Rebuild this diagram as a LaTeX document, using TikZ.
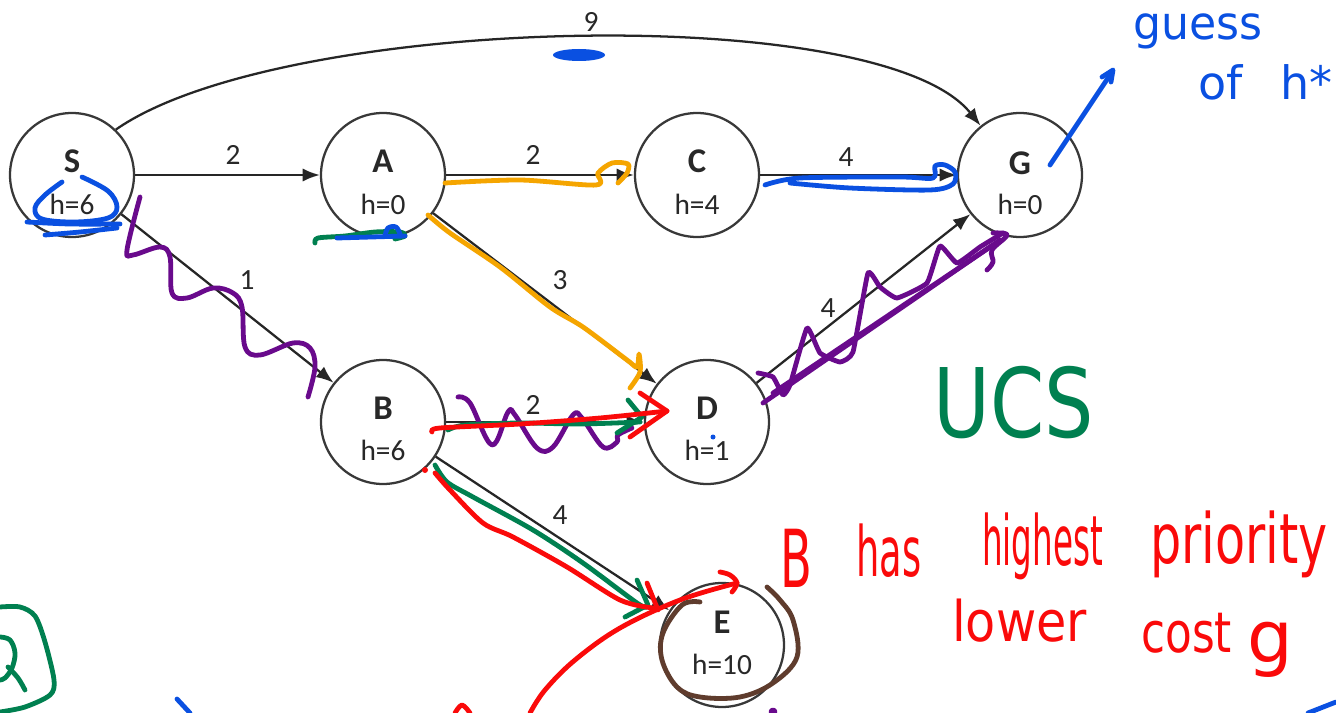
\documentclass[tikz,border=0pt]{standalone}
\usepackage{fontspec}
\setmainfont{Carlito}
\newfontfamily\handfont{DejaVu Sans}
\usetikzlibrary{arrows.meta,calc}
\definecolor{inkblue}{RGB}{10,80,225}
\definecolor{inkgreen}{RGB}{0,128,80}
\definecolor{inkorange}{RGB}{245,165,0}
\definecolor{inkpurple}{RGB}{105,10,140}
\definecolor{inkred}{RGB}{250,10,10}
\definecolor{inkbrown}{RGB}{95,60,45}
\definecolor{graytext}{RGB}{40,40,40}
\tikzset{
  state/.style={circle, draw=black!78, line width=1.7pt, minimum size=93pt, inner sep=0pt},
  nlabel/.style={font=\fontsize{26}{28}\selectfont\bfseries, text=graytext, inner sep=0pt},
  hlabel/.style={font=\fontsize{22}{24}\selectfont, text=graytext, inner sep=0pt},
  elabel/.style={font=\fontsize{22}{24}\selectfont, text=graytext, inner sep=0pt},
  link/.style={draw=black!85, line width=1.7pt, -{Latex[length=13pt,width=10pt]}},
  pen/.style={line width=3.6pt, line cap=round, line join=round},
  hand/.style={inner sep=0pt, anchor=base west},
}
\begin{document}
\begin{tikzpicture}[x=0.75pt,y=-0.75pt]
\fill[white] (0,0) rectangle (1336,713);
\useasboundingbox (0,0) rectangle (1336,713);

% ---- graph nodes ----
\node[state] (S) at (72,175) {};
\node[state] (A) at (383,175) {};
\node[state] (C) at (697,175) {};
\node[state] (G) at (1020,175) {};
\node[state] (B) at (383,422) {};
\node[state] (D) at (707,422) {};
\node[state] (E) at (722,645) {};

\node[nlabel] (Sl) at ($(S)+(0,-14)$) {S};
\node[hlabel] (Sh) at ($(S)+(0,29)$) {h=6};
\node[nlabel] (Al) at ($(A)+(0,-14)$) {A};
\node[hlabel] (Ah) at ($(A)+(0,29)$) {h=0};
\node[nlabel] (Cl) at ($(C)+(0,-14)$) {C};
\node[hlabel] (Ch) at ($(C)+(0,29)$) {h=4};
\node[nlabel] (Gl) at ($(G)+(0,-12)$) {G};
\node[hlabel] (Gh) at ($(G)+(0,29)$) {h=0};
\node[nlabel] (Bl) at ($(B)+(0,-14)$) {B};
\node[hlabel] (Bh) at ($(B)+(0,28)$) {h=6};
\node[nlabel] (Dl) at ($(D)+(0,-14)$) {D};
\node[hlabel] (Dh) at ($(D)+(0,28)$) {h=1};
\node[nlabel] (El) at ($(E)+(0,-23)$) {E};
\node[hlabel] (Eh) at ($(E)+(0,19)$) {h=10};

% ---- graph edges ----
\draw[link] (S) -- (A);
\draw[link] (A) -- (C);
\draw[link] (C) -- (G);
\draw[link] (S.46) .. controls (280,15) and (880,0) .. (G);
\draw[link] (S) -- (B);
\draw[link] (A) -- (D);
\draw[link] (B) -- (D);
\draw[link] (D) -- (G);
\draw[link] (B) -- (E);

\node[elabel] (w9) at (591,22) {9};
\node[elabel] (wSA) at (233,155) {2};
\node[elabel] (wAC) at (533,155) {2};
\node[elabel] (wCG) at (846,157) {4};
\node[elabel] (wSB) at (247,280) {1};
\node[elabel] (wAD) at (560,280) {3};
\node[elabel] (wDG) at (828,308) {4};
\node[elabel] (wBD) at (533,405) {2};
\node[elabel] (wBE) at (560,515) {4};

% ---- orange ink ----
\draw[pen, inkorange] plot[smooth, tension=0.5] coordinates {(445,183) (520,180) (596,185) (598,173) (612,163) (628,164) (627,173) (618,183)};
\draw[pen, inkorange] plot[smooth, tension=0.5] coordinates {(428,215) (450,233) (500,267) (550,307) (583,327) (627,360) (637,367) (639,354) (640,372) (630,388)};

% ---- purple ink ----
\draw[pen, inkpurple] plot[smooth, tension=0.6] coordinates {(140,197) (127,250) (133,255) (160,247) (170,257) (172,293) (187,298) (213,288) (233,293) (242,307) (245,347) (260,355) (293,343) (310,348) (315,367) (308,397)};
\draw[pen, inkpurple] plot[smooth, tension=0.6] coordinates {(458,397) (470,403) (492,445) (508,412) (515,415) (537,448) (553,447) (573,415) (582,418) (603,447) (617,442) (618,435) (632,428)};
\draw[pen, inkpurple] plot[smooth, tension=0.25] coordinates {(758,373) (773,377) (783,395) (790,385) (807,328) (820,353) (840,362) (853,352) (868,273) (880,287) (897,298) (927,283) (940,246) (957,263) (980,247) (1003,233)};
\draw[pen, inkpurple] (763,403) -- (1000,240);
\draw[pen, inkpurple] (773,393) -- (993,245);
\draw[pen, inkpurple] plot[smooth, tension=0.6] coordinates {(993,233) (1007,235) (992,250) (993,262) (987,270)};
\draw[pen, inkpurple] (773,712) circle (2);

% ---- green ink ----
\draw[pen, inkgreen] plot[smooth, tension=0.5] coordinates {(315,243) (318,238) (345,236) (375,232) (400,232) (405,236) (395,239)};
\draw[pen, inkgreen] plot[smooth, tension=0.5] coordinates {(448,430) (465,425) (520,423) (580,424) (640,422)};
\draw[pen, inkgreen] (628,400) -- (642,417) -- (617,433);
\draw[pen, inkgreen] plot[smooth, tension=0.5] coordinates {(435,465) (447,482) (473,497) (533,530) (583,563) (637,603) (647,607)};
\draw[pen, inkgreen] (637,580) -- (648,605) -- (625,617);
\draw[pen, inkgreen] plot[smooth, tension=0.5] coordinates {(0,607) (20,607) (35,616) (45,642) (54,680) (50,695) (25,707) (0,712)};
\draw[pen, inkgreen] plot[smooth, tension=0.6] coordinates {(0,637) (10,640) (15,653) (12,668) (5,678) (0,680)};
\draw[pen, inkgreen] plot[smooth, tension=0.6] coordinates {(8,667) (18,678) (25,690)};
\node[hand, text=inkgreen, font=\handfont\fontsize{72}{72}\selectfont] (ucs) at (933,437) {\scalebox{0.81}[1]{UCS}};

% ---- red ink ----
\draw[pen, inkred] plot[smooth, tension=0.5] coordinates {(432,432) (440,428) (520,424) (600,418) (667,411)};
\draw[pen, inkred] (640,393) -- (667,411) -- (630,437);
\draw[pen, inkred] plot[smooth, tension=0.5] coordinates {(435,473) (450,490) (483,523) (513,537) (567,567) (620,600) (653,608)};
\draw[pen, inkred] (647,583) -- (658,610);
\draw[pen, inkred] plot[smooth, tension=0.6] coordinates {(530,713) (545,690) (575,660) (620,628) (680,600) (737,583)};
\draw[pen, inkred] plot[smooth, tension=0.6] coordinates {(720,572) (730,575) (737,583) (732,592)};
\fill[inkred] (425,470) circle (3);
\draw[pen, inkred] plot[smooth, tension=0.6] coordinates {(455,713) (462,705) (470,713)};
\node[hand, text=inkred, font=\handfont\fontsize{60}{60}\selectfont] (tB) at (780,587) {\scalebox{0.58}[1]{B}};
\node[hand, text=inkred, font=\handfont\fontsize{52}{52}\selectfont] (thas) at (856,576) {\scalebox{0.53}[1]{has}};
\node[hand, text=inkred, font=\handfont\fontsize{52}{52}\selectfont] (thigh) at (982,565) {\scalebox{0.47}[1]{highest}};
\node[hand, text=inkred, font=\handfont\fontsize{52}{52}\selectfont] (tprio) at (1150,563) {\scalebox{0.71}[1]{priority}};
\node[hand, text=inkred, font=\handfont\fontsize{42}{42}\selectfont] (tlow) at (952,641) {\scalebox{0.88}[1]{lower}};
\node[hand, text=inkred, font=\handfont\fontsize{42}{42}\selectfont] (tcost) at (1141,652) {\scalebox{0.78}[1]{cost}};
\node[hand, text=inkred, font=\handfont\fontsize{54}{54}\selectfont] (tg) at (1247,662) {g};

% ---- brown ink ----
\draw[pen, inkbrown] plot[smooth, tension=0.6] coordinates {(700,602) (682,605) (663,633) (662,660) (677,687) (700,697) (740,697) (773,683) (797,657) (793,620) (780,600) (767,587)};

% ---- blue ink ----
\draw[pen, inkblue] plot[smooth, tension=0.6] coordinates {(62,182) (45,195) (35,208) (42,219) (75,222) (108,218) (117,207) (108,191) (82,177)};
\draw[pen, inkblue] plot[smooth, tension=0.5] coordinates {(27,222) (70,224) (120,224)};
\draw[pen, inkblue] plot[smooth, tension=0.5] coordinates {(45,235) (80,232) (117,228)};
\draw[pen, inkblue] plot[smooth, tension=0.5] coordinates {(765,185) (800,178) (900,177) (933,178) (935,166) (945,165) (955,172) (953,184) (930,190) (850,188) (790,183)};
\draw[pen, inkblue] (337,238) -- (405,236);
\draw[pen, inkblue] plot[smooth, tension=0.6] coordinates {(385,236) (388,228) (396,227) (400,234)};
\fill[inkblue] (579,55) ellipse (26 and 6);
\draw[pen, inkblue] (1050,165) -- (1112,72);
\draw[pen, inkblue] (1102,77) -- (1113,70) -- (1111,82);
\fill[inkblue] (713,437) circle (2.5);
\draw[pen, inkblue] (177,699) -- (190,713);
\draw[pen, inkblue] (1308,713) -- (1336,702);
\node[hand, text=inkblue, font=\handfont\fontsize{34.5}{34.5}\selectfont] (tguess) at (1133,40) {\scalebox{0.96}[1]{guess}};
\node[hand, text=inkblue, font=\handfont\fontsize{34.5}{34.5}\selectfont] (tof) at (1198,100) {of};
\node[hand, text=inkblue, font=\handfont\fontsize{34.5}{34.5}\selectfont] (thstar) at (1280,100) {h*};
\end{tikzpicture}
\end{document}
